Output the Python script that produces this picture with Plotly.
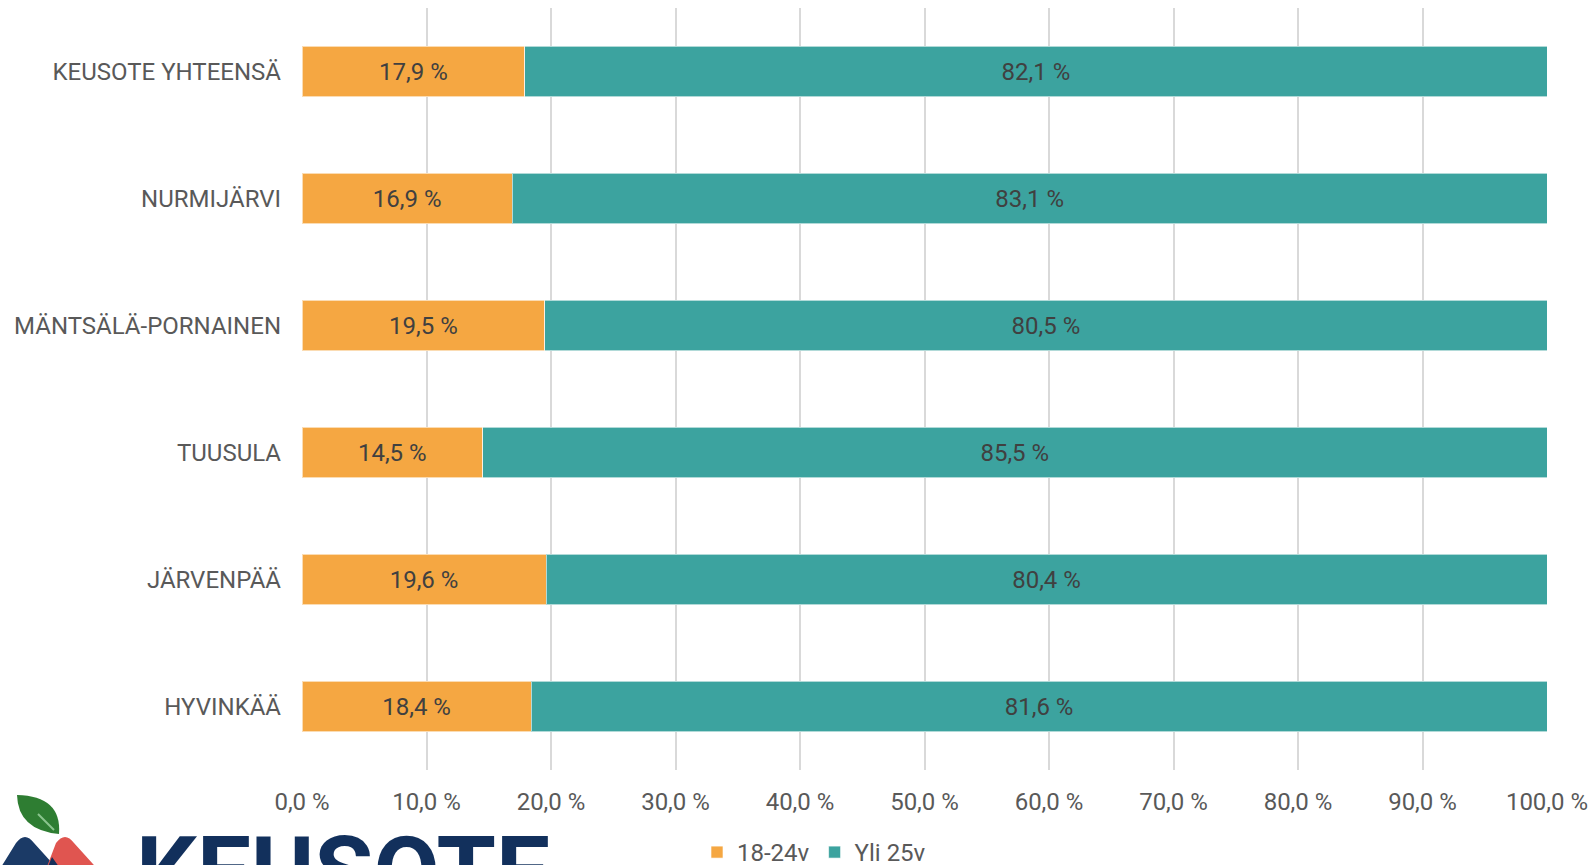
import plotly.graph_objects as go

categories = ["HYVINKÄÄ", "JÄRVENPÄÄ", "TUUSULA", "MÄNTSÄLÄ-PORNAINEN", "NURMIJÄRVI", "KEUSOTE YHTEENSÄ"]
young = [18.4, 19.6, 14.5, 19.5, 16.9, 17.9]
older = [81.6, 80.4, 85.5, 80.5, 83.1, 82.1]
series_names = ["18-24v", "Yli 25v"]
tick_values = [0, 10, 20, 30, 40, 50, 60, 70, 80, 90, 100]
tick_labels = ["0,0 %", "10,0 %", "20,0 %", "30,0 %", "40,0 %", "50,0 %",
               "60,0 %", "70,0 %", "80,0 %", "90,0 %", "100,0 %"]

W, H = 1593, 865
L, R, T, B = 302, 46, 8, 95
PW, PH = W - L - R, H - T - B

def px(x):
    return (x - L) / PW

def py(y):
    return (H - B - y) / PH

ORANGE = "#F5A742"
TEAL = "#3CA39F"
FS = 24

fig = go.Figure()
for name, vals, col in [(series_names[0], young, ORANGE), (series_names[1], older, TEAL)]:
    fig.add_trace(go.Bar(
        y=categories, x=vals, name=name, orientation="h",
        marker=dict(color=col, line=dict(color="rgba(255,255,255,0.6)", width=1)),
        texttemplate="%{x:.1f} %", textposition="inside", insidetextanchor="middle",
        textfont=dict(family="Roboto", size=FS, color="#404040"),
        cliponaxis=False,
    ))

# Logo decorations (KEUSOTE)
shapes = [
    dict(type="path", xref="paper", yref="paper",
         path=f"M {px(-10)},{py(885)} L {px(16)},{py(843)} Q {px(25)},{py(831)} {px(34)},{py(843)} L {px(72)},{py(885)} Z",
         fillcolor="#1B3A66", line=dict(width=0), layer="above"),
    dict(type="path", xref="paper", yref="paper",
         path=f"M {px(40)},{py(885)} L {px(56)},{py(843)} Q {px(65)},{py(831)} {px(74)},{py(843)} L {px(112)},{py(885)} Z",
         fillcolor="#E05550", line=dict(width=0), layer="above"),
    dict(type="path", xref="paper", yref="paper",
         path=f"M {px(40)},{py(885)} L {px(52)},{py(857)} L {px(72)},{py(885)} Z",
         fillcolor="#15305A", line=dict(width=0), layer="above"),
    dict(type="path", xref="paper", yref="paper",
         path=f"M {px(17)},{py(795)} Q {px(62)},{py(796)} {px(59)},{py(834)} Q {px(18)},{py(830)} {px(17)},{py(795)} Z",
         fillcolor="#2E7D32", line=dict(width=0), layer="above"),
    dict(type="line", xref="paper", yref="paper",
         x0=px(38), y0=py(814), x1=px(54), y1=py(830),
         line=dict(color="#8BC48E", width=2), layer="above"),
]

fig.update_layout(
    width=W, height=H,
    margin=dict(l=L, r=R, t=T, b=B, autoexpand=False),
    paper_bgcolor="white", plot_bgcolor="white",
    barmode="stack", bargap=0.6,
    separators=", ",
    font=dict(family="Roboto", size=FS, color="#595959"),
    showlegend=True,
    legend=dict(orientation="h", x=px(697), y=py(830), xanchor="left", yanchor="top",
                font=dict(family="Roboto", size=FS, color="#595959"),
                traceorder="normal", itemwidth=30),
    shapes=shapes,
    annotations=[dict(text="<b>KEUSOTE</b>", xref="paper", yref="paper",
                      x=px(134), y=py(814), xanchor="left", yanchor="top",
                      showarrow=False,
                      font=dict(family="Roboto", size=96, color="#12305C"))],
)
fig.update_xaxes(range=[0, 100], tickvals=tick_values, ticktext=tick_labels,
                 showgrid=True, gridcolor="#D9D9D9", gridwidth=2, zeroline=False,
                 showline=False, ticks="", ticklabelstandoff=15, automargin=False,
                 tickfont=dict(family="Roboto", size=FS, color="#595959"), fixedrange=True)
fig.update_yaxes(categoryorder="array", categoryarray=categories, showgrid=False,
                 ticks="", ticklabelstandoff=20, automargin=False,
                 tickfont=dict(family="Roboto", size=FS, color="#595959"), fixedrange=True)

fig.write_html("out.html", config=dict(displayModeBar=False),
               post_script="document.body.style.margin='0';document.body.style.overflow='hidden';")
